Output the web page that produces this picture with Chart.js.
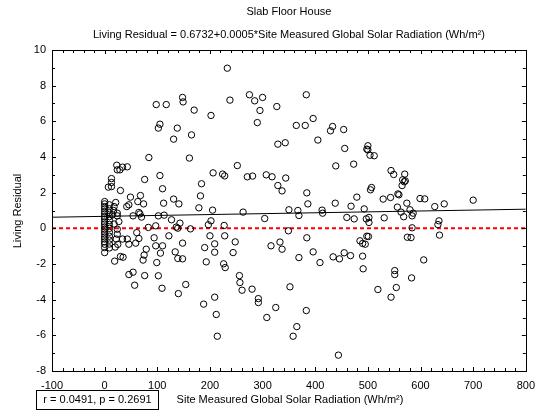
<!DOCTYPE html>
<html>
<head>
<meta charset="utf-8">
<script src="https://cdn.jsdelivr.net/npm/chart.js@4/dist/chart.umd.min.js"></script>
<style>
  html, body { margin: 0; padding: 0; background: #fff; }
  #wrap { width: 543px; height: 411px; }
</style>
</head>
<body>
<div id="wrap"><canvas id="chart" width="543" height="411"></canvas></div>
<script>
/* Slab Floor House – living residual vs. site measured global solar radiation */

const TITLE     = 'Slab Floor House';
const SUBTITLE  = 'Living Residual = 0.6732+0.0005*Site Measured Global Solar Radiation (Wh/m\u00B2)';
const X_TITLE   = 'Site Measured Global Solar Radiation (Wh/m\u00B2)';
const Y_TITLE   = 'Living Residual';
const STATS     = 'r = 0.0491, p = 0.2691';

const FIT_INTERCEPT = 0.6732;
const FIT_SLOPE     = 0.0005;

const X_MIN = -100, X_MAX = 800, X_STEP = 100;
const Y_MIN = -8,   Y_MAX = 10,  Y_STEP = 2;

// solar radiation (Wh/m2) for each observation
const radiation = [
    0, 0, 0, 0, 0, 0, 0, 0, 0, 0, 0, 0, 0, 0, 0, 0, 0, 0, 0, 0,
    9, 9, 9, 9, 9, 9, 9, 9, 9, 9, 9, 9,
    18, 21, 17, 24, 15, 24, 27, 18, 24, 24, 22, 25, 20,
    34, 43, 46, 59, 30, 35, 19, 46, 54, 57, 61, 65, 79, 75, 73, 76,
    54, 65, 70, 67, 83, 97, 102, 113, 94, 97, 110, 106, 99, 102, 109,
    122, 127, 136, 143, 139, 148, 134, 139, 148, 154, 140, 163, 179,
    131, 141, 112, 42, 46, 63, 74, 68, 49,
    205, 202, 197, 200, 209, 209, 190, 193, 209, 188, 212, 214,
    98, 117, 148, 149, 170, 202, 105, 102, 138, 131, 165, 84, 161,
    23, 24, 34, 43, 29, 13, 13, 7, 13, 30, 76, 105, 110, 206, 184, 182,
    233, 238, 275, 285, 300, 295, 327, 383, 290, 364, 381, 396, 405,
    429, 433, 454, 456, 498, 329, 343, 252, 224, 228, 271, 281, 307,
    318, 344, 329, 337, 384, 439, 473, 479,
    386, 263, 304, 350, 367, 369, 413, 414, 438, 468, 474, 460, 493,
    227, 228, 248, 244, 226, 229, 256, 257, 261, 280, 292, 292, 308,
    325, 316, 333, 337, 349, 352, 369, 384, 396, 409, 383, 365, 358,
    434, 446, 455, 467, 485, 490, 495, 498, 490, 491, 497, 444,
    500, 500, 504, 512, 544, 549, 570, 566, 569, 565, 571, 507, 557,
    559, 529, 543, 599, 608, 700,
    505, 556, 563, 574, 580, 586, 584, 568, 627, 645, 531, 502, 502,
    584, 635, 633, 636, 575, 582, 501, 606, 551, 551, 583, 519, 544, 554,
];

// living residual for each observation
const residual = [
    1.50, 1.37, 1.22, 1.09, 0.94, 0.81, 0.66, 0.52, 0.36, 0.24, 0.08, -0.05, -0.20, -0.33, -0.48, -0.60, -0.76, -0.89, -1.08, -1.36,
    1.32, 1.10, 0.88, 0.66, 0.44, 0.22, 0.00, -0.22, -0.44, -0.66, -0.88, -1.10,
    1.22, 1.45, 1.00, 0.85, 0.76, 0.70, 0.38, 0.24, -0.05, -0.33, -0.60, -0.90, -1.05,
    -0.60, -0.60, -0.89, -0.83, -1.58, -1.62, -1.84, -2.59, -2.46, -3.19, -0.24, -0.57, -1.17, -1.50, -1.78, -2.65,
    0.70, 0.89, 0.63, 0.81, 0.05, 0.14, 0.70, 0.74, -0.53, -0.98, -0.98, -1.39, -1.92, -2.66, -3.36,
    -0.42, 0.48, 0.07, 0.29, 0.01, -0.83, -1.32, -1.69, -1.71, -3.15, -3.66, -0.03, 1.15,
    1.64, 1.37, 1.41, 1.22, 1.32, 1.50, 1.37, 1.84, 1.75,
    1.02, 0.42, 0.20, -0.42, -0.87, -1.34, -1.08, -1.88, -3.86, -4.25, -4.83, -6.05,
    6.94, 6.94, 7.34, 7.09, 6.63, 6.33, 5.84, 5.62, 5.62, 5.00, 5.24, 3.97, 3.94,
    3.54, 3.28, 3.43, 3.45, 3.28, 2.79, 2.57, 2.31, 2.34, 2.12, 2.74, 2.96, 2.22, 3.11, 2.50, 1.82,
    8.98, 7.19, 7.49, 7.15, 7.34, 6.61, 6.83, 7.49, 5.93, 5.77, 5.77, 6.16, 4.95,
    5.47, 5.71, 5.54, 4.48, 4.44, 4.72, 4.80, 3.52, 3.04, 2.94, 2.89, 2.93, 3.00,
    2.89, 2.82, 2.40, 2.10, 1.99, 3.50, 3.60, 1.75,
    1.37, 0.91, 0.55, 1.04, 1.00, 0.72, 1.02, 0.85, 1.41, 1.24, 0.53, 0.61, 1.09,
    0.16, -0.42, -0.76, -1.36, -1.99, -2.20, -2.65, -3.04, -3.47, -3.41, -3.94, -4.16, -5.00,
    -4.44, -0.98, -0.77, -1.17, -0.14, -3.28, -1.64, -0.53, -1.32, -1.92, -4.61, -5.51, -6.05,
    -1.60, -1.71, -1.37, -1.53, -0.70, -0.85, -0.89, -0.44, -1.56, -2.27, 0.53, -7.11,
    4.63, 4.40, 4.10, 4.07, 3.24, 3.02, 3.04, 2.72, 2.61, 2.40, 2.66, 2.29, 1.93,
    1.88, 1.64, 1.73, 1.67, 1.65, 1.58,
    2.16, 1.19, 0.91, 1.41, 1.04, 0.85, 0.70, 0.65, 1.22, 1.37, 0.59, 0.61, 0.33,
    0.03, 0.42, 0.21, -0.38, -0.50, -0.52, -0.46, -1.77, -2.37, -2.59, -2.78, -3.43, -3.86, -3.32,
];

const FONT = '"Liberation Sans", Arial, sans-serif';

const points  = radiation.map((x, i) => ({ x: x, y: residual[i] }));
const fitLine = [X_MIN, X_MAX].map(x => ({ x: x, y: FIT_INTERCEPT + FIT_SLOPE * x }));
const zeroLine = [X_MIN, X_MAX].map(x => ({ x: x, y: 0 }));

/* frame, inward tick marks and the text around the plot */
const decorations = {
    id: 'decorations',
    afterDraw(chart) {
        const { ctx, chartArea: a, scales: { x, y } } = chart;
        ctx.save();
        ctx.strokeStyle = '#000';
        ctx.lineWidth = 1;
        ctx.strokeRect(Math.round(a.left) + 0.5, Math.round(a.top) + 0.5,
                       Math.round(a.right - a.left), Math.round(a.bottom - a.top));

        ctx.beginPath();
        for (let v = X_MIN; v <= X_MAX; v += 20) {
            const px = Math.round(x.getPixelForValue(v)) + 0.5;
            const len = v % 100 === 0 ? 4 : 3;
            ctx.moveTo(px, a.bottom); ctx.lineTo(px, a.bottom - len);
            ctx.moveTo(px, a.top);    ctx.lineTo(px, a.top + len);
        }
        for (let v = Y_MIN; v <= Y_MAX; v += 1) {
            const py = Math.round(y.getPixelForValue(v)) + 0.5;
            const len = v % 2 === 0 ? 4 : 3;
            ctx.moveTo(a.left, py);  ctx.lineTo(a.left + len, py);
            ctx.moveTo(a.right, py); ctx.lineTo(a.right - len, py);
        }
        ctx.stroke();

        const cx = (a.left + a.right) / 2;
        ctx.fillStyle = '#000';
        ctx.font = '11px ' + FONT;
        ctx.textAlign = 'center';
        ctx.textBaseline = 'middle';
        ctx.fillText(TITLE, cx, 12);
        ctx.fillText(SUBTITLE, cx, 35);
        ctx.fillText(X_TITLE, 290, 400);

        ctx.save();
        ctx.translate(18, 211);
        ctx.rotate(-Math.PI / 2);
        ctx.fillText(Y_TITLE, 0, 0);
        ctx.restore();

        // stats box
        ctx.strokeRect(36.5, 390.5, 122, 19);
        ctx.fillText(STATS, 97.5, 400);
        ctx.restore();
    },
};

new Chart(document.getElementById('chart').getContext('2d'), {
    type: 'scatter',
    data: {
        datasets: [
            {
                label: 'Observations',
                data: points,
                pointRadius: 3.2,
                pointBorderWidth: 1,
                pointBorderColor: '#000',
                pointBackgroundColor: 'transparent',
                pointHoverRadius: 3.2,
            },
            {
                type: 'line',
                label: 'Fit',
                data: fitLine,
                borderColor: '#000',
                borderWidth: 1,
                pointRadius: 0,
                fill: false,
            },
            {
                type: 'line',
                label: 'Zero',
                data: zeroLine,
                borderColor: '#ff0000',
                borderWidth: 2,
                borderDash: [4, 3],
                pointRadius: 0,
                fill: false,
            },
        ],
    },
    options: {
        responsive: false,
        animation: false,
        devicePixelRatio: 1,
        layout: { padding: { top: 50, right: 13, left: 0, bottom: 0 } },
        plugins: {
            legend: { display: false },
            tooltip: { enabled: false },
        },
        scales: {
            x: {
                type: 'linear',
                min: X_MIN,
                max: X_MAX,
                afterFit: s => { s.height = 40; },
                grid: { display: false, drawTicks: false },
                border: { display: false },
                ticks: {
                    stepSize: X_STEP,
                    padding: 8,
                    color: '#000',
                    maxRotation: 0,
                    font: { family: FONT, size: 11 },
                },
            },
            y: {
                type: 'linear',
                min: Y_MIN,
                max: Y_MAX,
                afterFit: s => { s.width = 52; },
                grid: { display: false, drawTicks: false },
                border: { display: false },
                ticks: {
                    stepSize: Y_STEP,
                    padding: 6,
                    color: '#000',
                    font: { family: FONT, size: 11 },
                },
            },
        },
    },
    plugins: [decorations],
});
</script>
</body>
</html>
